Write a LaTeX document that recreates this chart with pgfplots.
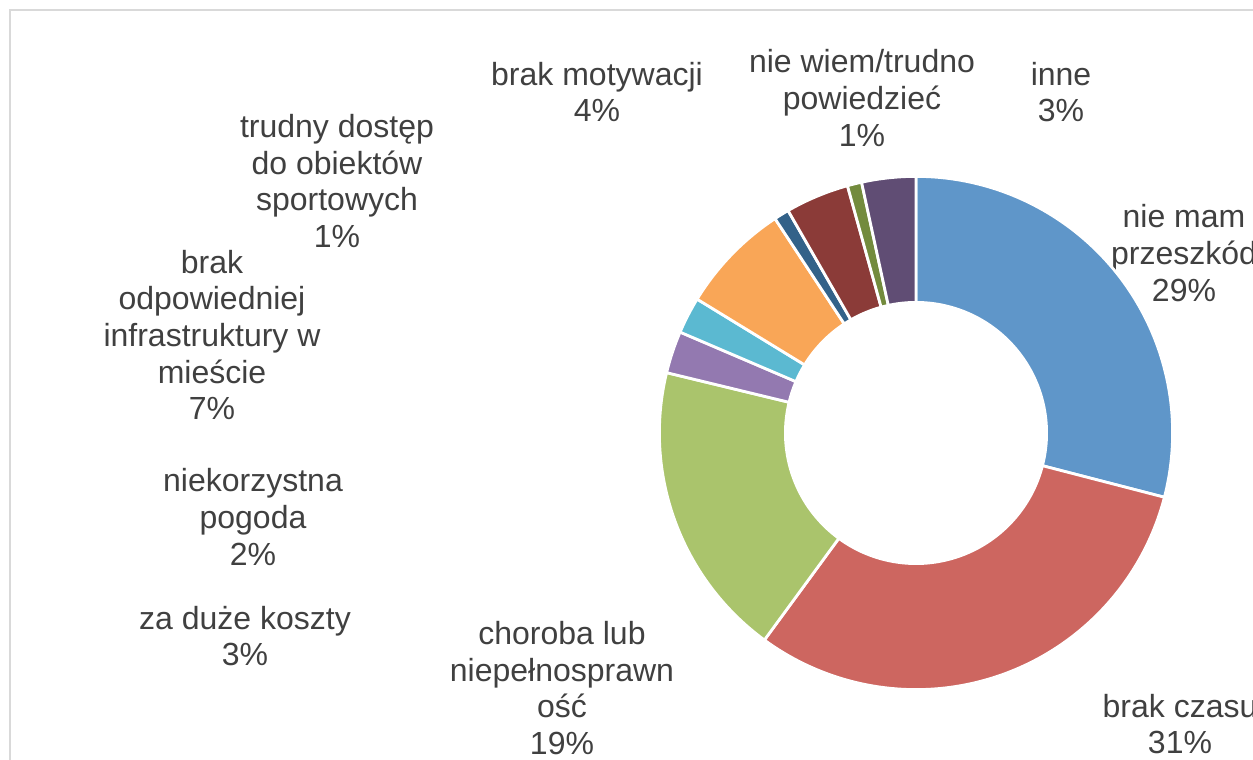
\documentclass[border=0pt]{standalone}
\usepackage{pgfplots}
\usepackage{pgfplotstable}
\pgfplotsset{compat=1.18}
\usepackage{fontspec}
\setmainfont{Liberation Sans}

\definecolor{c0}{HTML}{5F96C9}
\definecolor{c1}{HTML}{CD6660}
\definecolor{c2}{HTML}{AAC46C}
\definecolor{c3}{HTML}{9379B0}
\definecolor{c4}{HTML}{5BB9D1}
\definecolor{c5}{HTML}{F9A657}
\definecolor{c6}{HTML}{336289}
\definecolor{c7}{HTML}{8B3B38}
\definecolor{c8}{HTML}{738B3D}
\definecolor{c9}{HTML}{604D74}
\definecolor{labelgray}{HTML}{404040}
\definecolor{framegray}{HTML}{D9D9D9}

% share of each answer, clockwise from 12 o'clock
\pgfplotstableread{
value color
29.0  c0
31.0  c1
18.7  c2
2.65  c3
2.3   c4
7.0   c5
0.95  c6
4.0   c7
0.9   c8
3.4   c9
}\slices

\begin{document}
\begin{tikzpicture}
  \begin{axis}[
      scale only axis,
      width=626.5pt, height=380pt,
      xmin=0, xmax=1253, ymin=0, ymax=760,
      hide axis,
      nodes={font=\fontsize{16}{18.35}\selectfont, text=labelgray,
          align=center, inner sep=0pt},
    ]
    \draw[framegray, line width=1pt] (axis cs:10,750) rectangle (axis cs:1400,-100);
    \coordinate (C) at (axis cs:916,327);

    \node at (axis cs:1184,507) {nie mam\\przeszkód\\29\%};
    \node at (axis cs:1180,36) {brak czasu\\31\%};
    \node at (axis cs:562,72) {choroba lub\\niepełnosprawn\\ość\\19\%};
    \node at (axis cs:245,124) {za duże koszty\\3\%};
    \node at (axis cs:253,243) {niekorzystna\\pogoda\\2\%};
    \node at (axis cs:212,425) {brak\\odpowiedniej\\infrastruktury w\\mieście\\7\%};
    \node at (axis cs:337,579) {trudny dostęp\\do obiektów\\sportowych\\1\%};
    \node at (axis cs:597,668) {brak motywacji\\4\%};
    \node at (axis cs:862,662) {nie wiem/trudno\\powiedzieć\\1\%};
    \node at (axis cs:1061,668) {inne\\3\%};
  \end{axis}

  % donut slices around the centre placed in axis coordinates
  \def\total{0}
  \pgfplotsforeachungrouped \i in {0,...,9}{%
    \pgfplotstablegetelem{\i}{value}\of\slices
    \pgfmathsetmacro\total{\total+\pgfplotsretval}%
  }
  \def\startang{90}
  \pgfplotsforeachungrouped \i in {0,...,9}{%
    \pgfplotstablegetelem{\i}{value}\of\slices
    \pgfmathsetmacro\endang{\startang-360*\pgfplotsretval/\total}%
    \pgfplotstablegetelem{\i}{color}\of\slices
    \edef\slicecol{\pgfplotsretval}%
    \fill[fill=\slicecol, draw=white, line width=1.4pt]
      ([shift={(\startang:128.3pt)}]C) arc[start angle=\startang, end angle=\endang, radius=128.3pt]
      -- ([shift={(\endang:65.3pt)}]C) arc[start angle=\endang, end angle=\startang, radius=65.3pt]
      -- cycle;
    \let\startang\endang
  }

  \pgfresetboundingbox
  \path[use as bounding box] (current axis.south west) rectangle (current axis.north east);
\end{tikzpicture}
\end{document}
